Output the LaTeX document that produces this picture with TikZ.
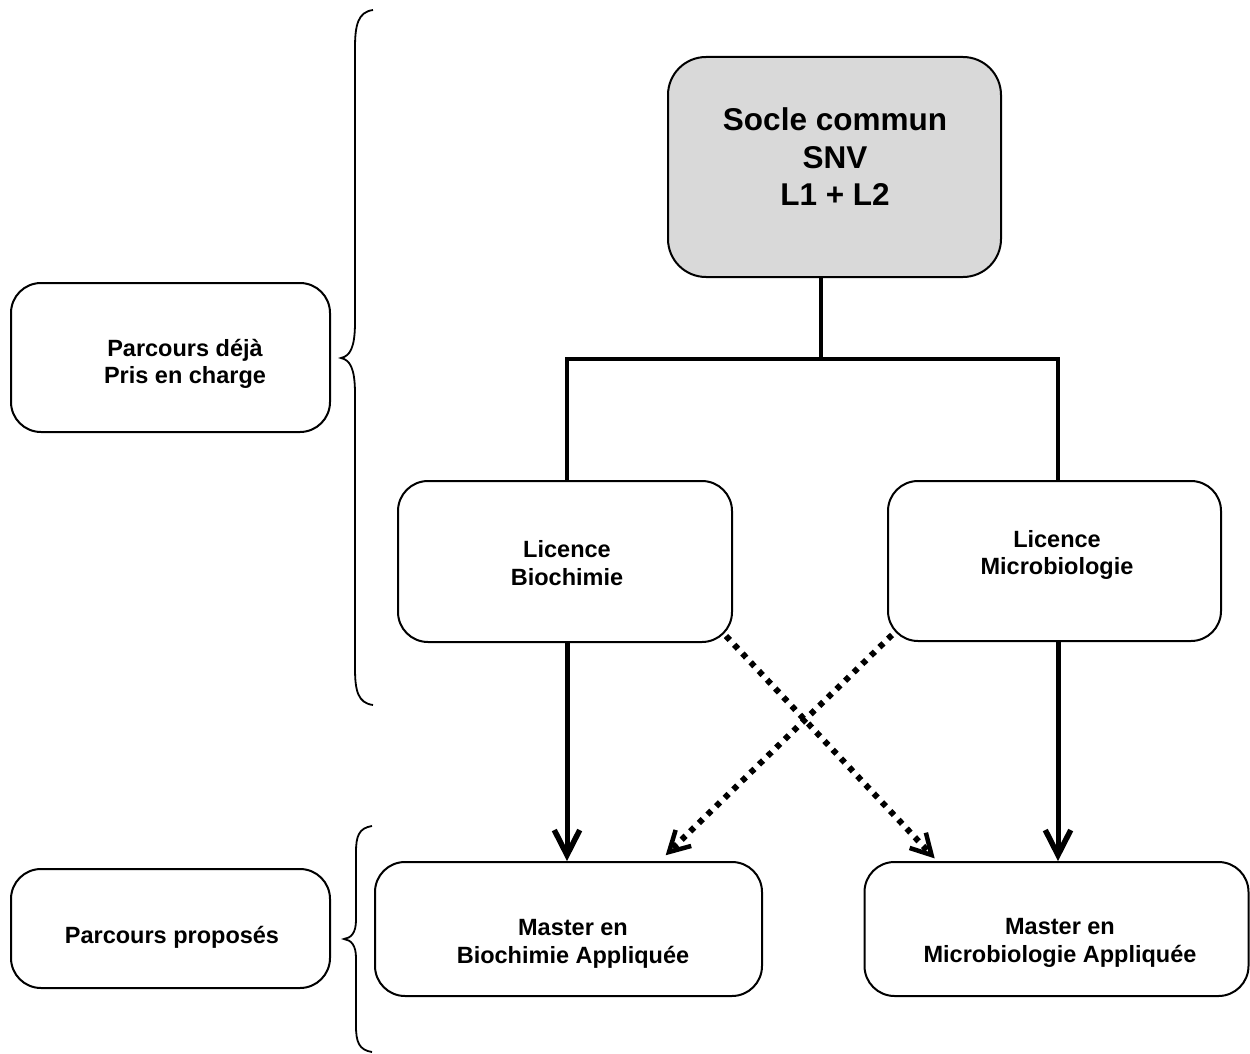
\documentclass[tikz,border=0pt]{standalone}
\usepackage{fontspec}
\setmainfont{Liberation Sans}
\usetikzlibrary{calc}
\begin{document}
\begin{tikzpicture}[x=1pt,y=-1pt,
  box/.style={draw,line width=2pt,rounded corners=30pt,inner sep=0pt},
  txt/.style={align=center,font=\fontsize{23.5}{27.5}\selectfont\bfseries},
  bigtxt/.style={align=center,font=\fontsize{31.5}{37.5}\selectfont\bfseries},
  conn/.style={line width=4pt},
  shaft/.style={line width=5pt},
  chev/.style={line width=5.5pt,line join=miter,line cap=butt},
  dshaft/.style={line width=6pt,dash pattern=on 5.5pt off 6.5pt},
  bracel/.style={line width=1.8pt}]
\useasboundingbox (0,0) rectangle (1250,1054);
% boxes
\node[box,fill={rgb,255:red,217;green,217;blue,217},rounded corners=38pt,minimum width=333pt,minimum height=220pt] (socle) at (834.5,167) {};
\node[box,minimum width=319pt,minimum height=149pt] (deja) at (170.5,357.5) {};
\node[box,minimum width=334pt,minimum height=161pt] (lbio) at (565,561.5) {};
\node[box,minimum width=333pt,minimum height=160pt] (lmic) at (1054.5,561) {};
\node[box,minimum width=319pt,minimum height=119pt] (prop) at (170.5,928.5) {};
\node[box,minimum width=387pt,minimum height=134pt] (mbio) at (568.5,929) {};
\node[box,minimum width=384pt,minimum height=134pt] (mmic) at (1056.5,929) {};
% texts
\node[bigtxt] (tsocle) at (835,157) {Socle commun\\SNV\\L1 + L2};
\node[txt] (tdeja) at (185,364) {Parcours déjà\\Pris en charge};
\node[txt] (tlbio) at (567,563) {Licence\\Biochimie};
\node[txt] (tlmic) at (1057,555) {Licence\\Microbiologie};
\node[txt] (tprop) at (172,937) {Parcours proposés};
\node[txt] (tmbio) at (573,944) {Master en\\Biochimie Appliquée};
\node[txt] (tmmic) at (1060,943) {Master en\\Microbiologie Appliquée};
% tree connectors
\coordinate (j) at (821,359);
\coordinate (jl) at (567,359);
\coordinate (jr) at (1058,359);
\draw[conn] (socle.south -| j) -- (j);
\draw[conn,line join=miter] (lbio.north -| jl) -- (jl) -- (jr) -- (lmic.north -| jr);
% solid arrows
\coordinate (s1) at (lbio.south -| jl);
\coordinate (e1) at ([yshift=6pt]mbio.north -| jl);
\coordinate (s2) at (lmic.south -| jr);
\coordinate (e2) at ([yshift=6pt]mmic.north -| jr);
\draw[shaft] (s1) -- (e1);
\draw[shaft] (s2) -- (e2);
\draw[chev] ($(e1)!28pt!27:(s1)$) -- (e1) -- ($(e1)!28pt!-27:(s1)$);
\draw[chev] ($(e2)!28pt!27:(s2)$) -- (e2) -- ($(e2)!28pt!-27:(s2)$);
% dotted arrows
\coordinate (s3) at ([shift={(-7,-7)}]lbio.south east);
\coordinate (e3) at ([shift={(68,-6)}]mmic.north west);
\coordinate (s4) at ([shift={(5,-7)}]lmic.south west);
\coordinate (e4) at ([shift={(295,-9)}]mbio.north west);
\draw[dshaft] (s3) -- ($(e3)!3pt!(s3)$);
\draw[dshaft] (s4) -- ($(e4)!3pt!(s4)$);
\draw[chev,line width=4.5pt] ($(e3)!23pt!29:(s3)$) -- (e3) -- ($(e3)!23pt!-29:(s3)$);
\draw[chev,line width=4.5pt] ($(e4)!23pt!29:(s4)$) -- (e4) -- ($(e4)!23pt!-29:(s4)$);
% braces
\draw[bracel] (373,10) .. controls (358,12) and (355,25) .. (355,48) -- (355,322)
  .. controls (355,348) and (350,356) .. (341,358)
  .. controls (350,360) and (355,368) .. (355,394) -- (355,668)
  .. controls (355,691) and (358,703) .. (373,705);
\draw[bracel] (372,826) .. controls (359,828) and (356,836) .. (356,852) -- (356,920)
  .. controls (356,933) and (351,938) .. (344,939)
  .. controls (351,940) and (356,945) .. (356,958) -- (356,1026)
  .. controls (356,1042) and (359,1050) .. (372,1052);
\end{tikzpicture}
\end{document}
